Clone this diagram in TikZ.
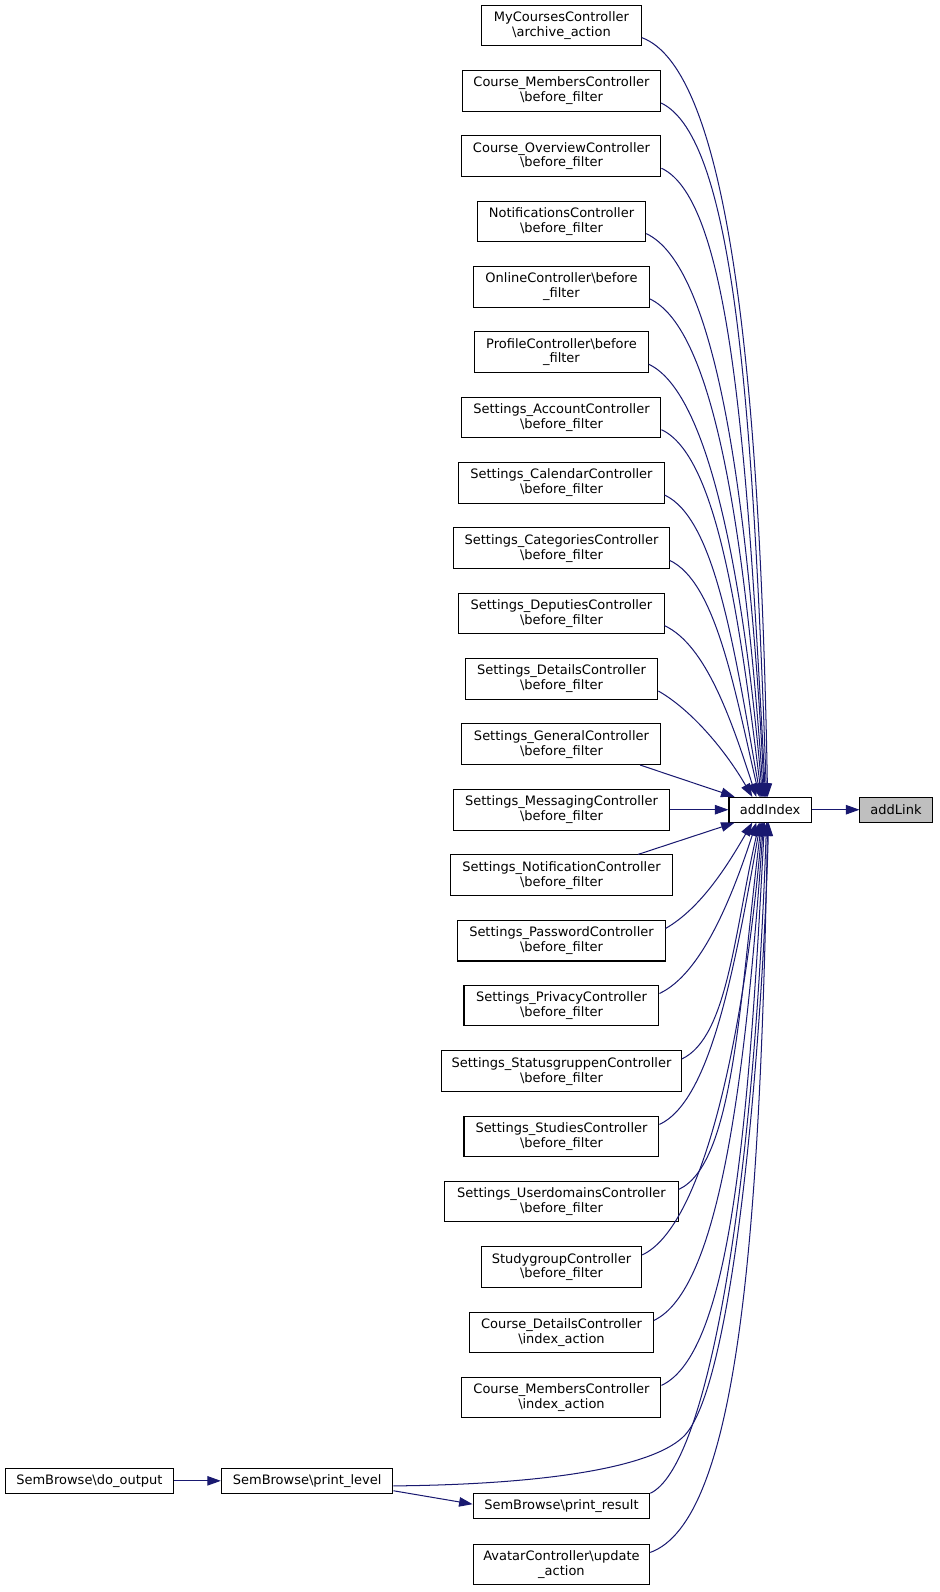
\documentclass[tikz,border=0pt]{standalone}
\usepackage{fontspec}
\setmainfont{DejaVu Sans}
\usetikzlibrary{arrows.meta,calc}
\definecolor{edgec}{HTML}{191970}
\definecolor{linkfill}{HTML}{BFBFBF}
\tikzset{
  box/.style={draw=black, line width=0.75pt, fill=white, inner sep=0pt, minimum height=30pt, align=center, font=\fontsize{9.6}{11}\selectfont},
  box1/.style={box, minimum height=18.4pt},
  edge/.style={draw=edgec, line width=0.75pt, -{Triangle[length=10pt,width=7pt]}},
}
\newcommand{\upE}[6]{\draw[edge] ($(#1.east)+(0,-12)$) .. controls +(#3:#4) and +(#5:#6) .. (#2,-785);}
\newcommand{\loE}[6]{\draw[edge] ($(#1.east)+(0,12)$) .. controls +(#3:#4) and +(#5:#6) .. (#2,-810);}
\begin{document}
\begin{tikzpicture}[x=0.75pt,y=0.75pt]
\useasboundingbox (0,0) rectangle (925,-1568);
\node[box, minimum width=117.75pt] (n1) at (553,-25) {MyCoursesController\\\textbackslash archive\_action};
\node[box, minimum width=146.25pt] (n2) at (553,-89.4) {Course\_MembersController\\\textbackslash before\_filter};
\node[box, minimum width=147pt] (n3) at (553,-153.7) {Course\_OverviewController\\\textbackslash before\_filter};
\node[box, minimum width=124.5pt] (n4) at (553,-218.1) {NotificationsController\\\textbackslash before\_filter};
\node[box, minimum width=129.75pt] (n5) at (553,-282.4) {OnlineController\textbackslash before\\\_filter};
\node[box, minimum width=128.25pt] (n6) at (553,-346.8) {ProfileController\textbackslash before\\\_filter};
\node[box, minimum width=147pt] (n7) at (553,-411.2) {Settings\_AccountController\\\textbackslash before\_filter};
\node[box, minimum width=151.5pt] (n8) at (553,-475.5) {Settings\_CalendarController\\\textbackslash before\_filter};
\node[box, minimum width=159pt] (n9) at (553,-539.9) {Settings\_CategoriesController\\\textbackslash before\_filter};
\node[box, minimum width=151.5pt] (n10) at (553,-604.2) {Settings\_DeputiesController\\\textbackslash before\_filter};
\node[box, minimum width=142.5pt] (n11) at (553,-668.6) {Settings\_DetailsController\\\textbackslash before\_filter};
\node[box, minimum width=147pt] (n12) at (553,-733) {Settings\_GeneralController\\\textbackslash before\_filter};
\node[box, minimum width=159pt] (n13) at (553,-797.5) {Settings\_MessagingController\\\textbackslash before\_filter};
\node[box, minimum width=163.5pt] (n14) at (553,-862) {Settings\_NotificationController\\\textbackslash before\_filter};
\node[box, minimum width=153pt] (n15) at (553,-926.5) {Settings\_PasswordController\\\textbackslash before\_filter};
\node[box, minimum width=144pt] (n16) at (553,-990.5) {Settings\_PrivacyController\\\textbackslash before\_filter};
\node[box, minimum width=177pt] (n17) at (553,-1055) {Settings\_StatusgruppenController\\\textbackslash before\_filter};
\node[box, minimum width=144pt] (n18) at (553,-1119.5) {Settings\_StudiesController\\\textbackslash before\_filter};
\node[box, minimum width=172.5pt] (n19) at (553,-1183.5) {Settings\_UserdomainsController\\\textbackslash before\_filter};
\node[box, minimum width=118.5pt] (n20) at (553,-1248) {StudygroupController\\\textbackslash before\_filter};
\node[box, minimum width=135.75pt] (n21) at (553,-1312.5) {Course\_DetailsController\\\textbackslash index\_action};
\node[box, minimum width=147pt] (n22) at (553,-1376.5) {Course\_MembersController\\\textbackslash index\_action};
\node[box1, minimum width=130.5pt] (pr) at (553,-1483.5) {SemBrowse\textbackslash print\_result};
\node[box, minimum width=130.5pt] (av) at (553,-1541) {AvatarController\textbackslash update\\\_action};
\node[box1, minimum width=126.75pt] (pl) at (302.5,-1458.5) {SemBrowse\textbackslash print\_level};
\node[box1, minimum width=124.5pt] (do) at (88,-1458.5) {SemBrowse\textbackslash do\_output};
\node[box1, minimum width=60.75pt] (ai) at (758.5,-797.5) {addIndex};
\node[box1, minimum width=53.25pt, fill=linkfill] (al) at (882.5,-797.5) {addLink};
% upper edges
\upE{n1}{756}{-20}{90}{91}{420}
\upE{n2}{755}{-25}{80}{92}{380}
\upE{n3}{754}{-25}{75}{93}{340}
\upE{n4}{753}{-25}{75}{93}{300}
\upE{n5}{752}{-25}{70}{94}{260}
\upE{n6}{751}{-25}{65}{95}{220}
\upE{n7}{750}{-25}{60}{97}{180}
\upE{n8}{749}{-25}{55}{100}{150}
\upE{n9}{748}{-25}{50}{103}{110}
\upE{n10}{745}{-25}{45}{108}{80}
\upE{n11}{741}{-30}{40}{120}{50}
\draw[edge] ($(n12.south east)+(-21,0)$) -- ($(ai.north west)+(6,0)$);
\draw[edge] (n13.east) -- (ai.west);
\draw[edge] ($(n14.north east)+(-34,0)$) -- ($(ai.south west)+(6,0)$);
% lower edges
\loE{n15}{741}{30}{40}{-120}{50}
\loE{n16}{745}{25}{45}{-108}{80}
\loE{n17}{748}{25}{50}{-103}{110}
\loE{n18}{749}{25}{55}{-100}{150}
\loE{n19}{750}{25}{60}{-97}{180}
\loE{n20}{751}{25}{65}{-95}{220}
\loE{n21}{752}{25}{70}{-94}{260}
\loE{n22}{753}{25}{75}{-93}{300}
\draw[edge] (pr.north east) .. controls +(25:60) and +(-92:380) .. (755,-810);
\loE{av}{756}{20}{90}{-91}{420}
\draw[edge] ($(pl.east)+(0,-5)$) .. controls (540,-1462) and (640,-1445) .. (672,-1416) .. controls (725,-1370) and (752,-1000) .. (757,-810);
\draw[edge] (do.east) -- (pl.west);
\draw[edge] ($(pl.south east)+(0,3)$) -- ($(pr.west)+(0,2)$);
\draw[edge] (ai.east) -- (al.west);
\end{tikzpicture}
\end{document}
